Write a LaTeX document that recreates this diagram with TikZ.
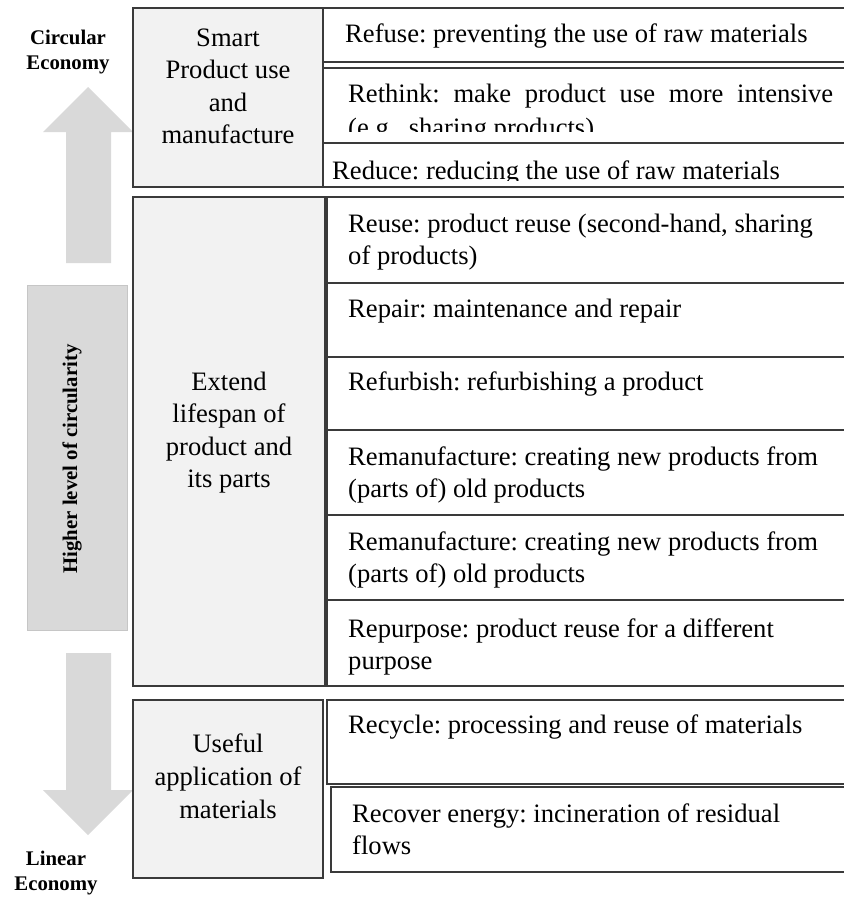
\documentclass[tikz,border=0pt]{standalone}
\usepackage{fontspec}
\setmainfont{Liberation Serif}
\definecolor{celink}{HTML}{3A3A3A}
\definecolor{celgrp}{HTML}{F2F2F2}
\definecolor{celarrow}{HTML}{D9D9D9}
\definecolor{celedge}{HTML}{C6C6C6}
\newcommand{\bodyfont}{\fontsize{26.6pt}{32.6pt}\selectfont\frenchspacing}
\newcommand{\tagfont}{\fontsize{20.8pt}{25pt}\selectfont\bfseries}
\tikzset{
  cell/.style={draw=celink, line width=1.3pt, fill=white, anchor=north west, inner sep=0pt, outer sep=0pt},
  grp/.style={cell, fill=celgrp},
  txt/.style={anchor=base west, inner sep=0pt, align=left, font=\bodyfont},
  grptxt/.style={anchor=base, inner sep=0pt, align=center, font=\bodyfont},
  tag/.style={inner sep=0pt, align=center, font=\tagfont},
}

\begin{document}
\begin{tikzpicture}[x=1pt, y=-1pt]
  \useasboundingbox (0,0) rectangle (843,899);
  % scale on the left (text nodes sit on the baseline of their last line)
  \fill[celarrow] (88,87) -- (133,132) -- (111,132) -- (111,263) -- (66,263) -- (66,132) -- (43,132) -- cycle;
  \fill[celarrow] (66,653) -- (111,653) -- (111,790) -- (133,790) -- (88,835) -- (43,790) -- (66,790) -- cycle;
  \node[draw=celedge, fill=celarrow, line width=0.8pt, minimum width=100pt, minimum height=345pt, inner sep=0pt, outer sep=0pt] (bar) at (77,457.5) {};
  \node[tag, rotate=90] (bar-t) at (72,459) {Higher level of circularity};
  \node[tag, anchor=base] (circ) at (68,70) {Circular\\Economy};
  \node[tag, anchor=base] (lin) at (56,890) {Linear\\Economy};
  % groups
  \node[grp, minimum width=190pt, minimum height=179pt] (smart) at (133,8) {};
  \node[grp, minimum width=192pt, minimum height=489pt] (extend) at (133,197) {};
  \node[grp, minimum width=190pt, minimum height=178pt] (useful) at (133,700) {};
  \node[grptxt] (smart-t) at (228,143.8) {Smart\\Product use\\and\\manufacture};
  \node[grptxt] (extend-t) at (229,487.8) {Extend\\lifespan of\\product and\\its parts};
  \node[grptxt] (useful-t) at (228,818) {Useful\\application of\\materials};
  % smart product use
  \node[cell, minimum width=527pt, minimum height=54pt] (refuse) at (323,8) {};
  \node[cell, minimum width=527pt, minimum height=75pt] (rethink) at (323,68) {};
  \node[cell, minimum width=527pt, minimum height=44pt] (reduce) at (323,143) {};
  \node[txt] (refuse-t) at (345,43) {Refuse: preventing the use of raw materials};
  \begin{scope}
    \clip (323,68) rectangle (850,131);
    \node[txt] (rethink-t) at (348,136) {\makebox[485pt][s]{Rethink: make product use more intensive}\\[0.9pt](e.g., sharing products)};
  \end{scope}
  \begin{scope}
    \clip (323,143) rectangle (850,180);
    \node[txt] (reduce-t) at (332,179) {Reduce: reducing the use of raw materials};
  \end{scope}
  % extend lifespan
  \node[cell, minimum width=523pt, minimum height=86pt] (reuse) at (327,197) {};
  \node[cell, minimum width=523pt, minimum height=74pt] (repair) at (327,283) {};
  \node[cell, minimum width=523pt, minimum height=73pt] (refurb) at (327,357) {};
  \node[cell, minimum width=523pt, minimum height=85pt] (reman) at (327,430) {};
  \node[cell, minimum width=523pt, minimum height=85pt] (reman2) at (327,515) {};
  \node[cell, minimum width=523pt, minimum height=86pt] (repurp) at (327,600) {};
  \node[txt] (reuse-t) at (348,264.6) {Reuse: product reuse (second-hand, sharing\\of products)};
  \node[txt] (repair-t) at (348,317) {Repair: maintenance and repair};
  \node[txt] (refurb-t) at (348,390) {Refurbish: refurbishing a product};
  \node[txt] (reman-t) at (348,497.6) {Remanufacture: creating new products from\\(parts of) old products};
  \node[txt] (reman2-t) at (348,582.6) {Remanufacture: creating new products from\\(parts of) old products};
  \node[txt] (repurp-t) at (348,669.6) {Repurpose: product reuse for a different\\purpose};
  % useful application
  \node[cell, minimum width=523pt, minimum height=84pt] (recycle) at (327,700) {};
  \node[cell, minimum width=519pt, minimum height=85pt] (recover) at (331,787) {};
  \node[txt] (recycle-t) at (348,733) {Recycle: processing and reuse of materials};
  \node[txt] (recover-t) at (352,854.6) {Recover energy: incineration of residual\\flows};
\end{tikzpicture}
\end{document}
